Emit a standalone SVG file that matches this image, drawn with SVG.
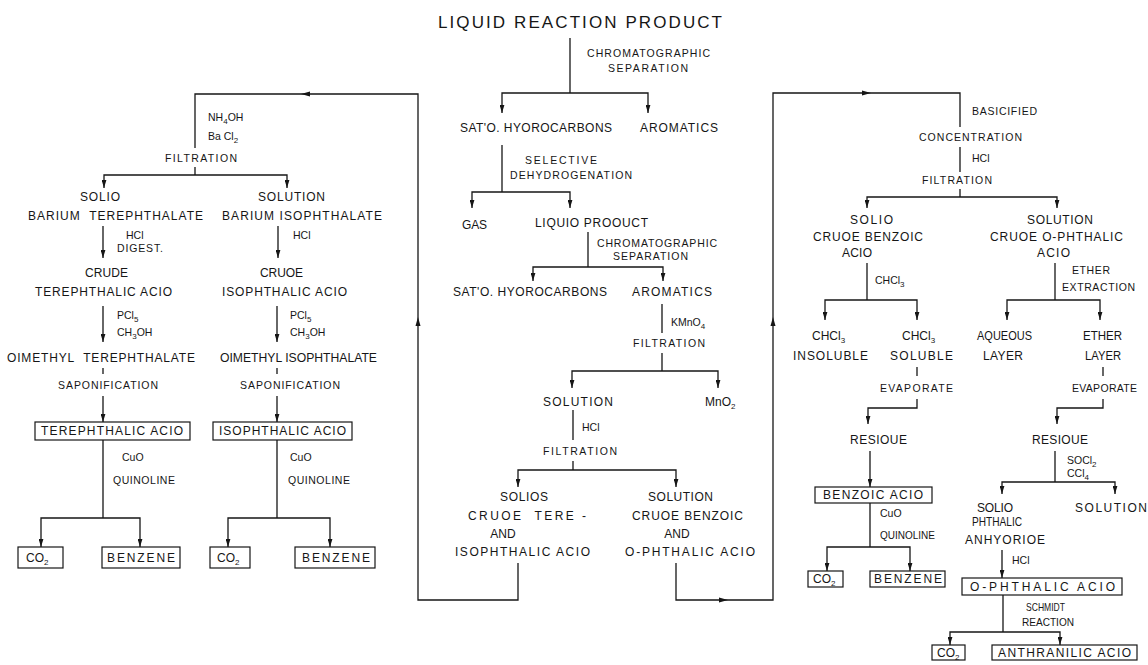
<svg xmlns="http://www.w3.org/2000/svg" width="1148" height="665" viewBox="0 0 1148 665">
<defs>
<style>
text{font-family:"Liberation Sans",Arial,sans-serif;fill:#161616;}
.m{font-size:12px;}
.r{font-size:10.5px;}
.ttl{font-size:17px;}
.sb{font-size:8px;}
.ln{stroke:#161616;stroke-width:1.3;fill:none;}
.ar{marker-end:url(#ah);}
.bx{stroke:#161616;stroke-width:1.2;fill:#fff;}
.tri{fill:#161616;}
</style>
<marker id="ah" viewBox="0 0 10 6" refX="10" refY="3" markerWidth="8" markerHeight="5" markerUnits="userSpaceOnUse" orient="auto"><path d="M0,0 L10,3 L0,6 z" fill="#161616"/></marker>
</defs>
<rect width="1148" height="665" fill="#fff"/>
<g id="connectors">
<path class="ln" d="M570,38 V93"/>
<path class="ln ar" d="M570,93 H502 V113"/>
<path class="ln ar" d="M570,93 H648 V113"/>
<path class="ln" d="M502,145 V192"/>
<path class="ln ar" d="M502,192 H472 V208"/>
<path class="ln ar" d="M502,192 H570 V208"/>
<path class="ln" d="M588,232 V267"/>
<path class="ln ar" d="M588,267 H533 V281"/>
<path class="ln ar" d="M588,267 H663 V281"/>
<path class="ln" d="M662,304 V333 M662,353 V371"/>
<path class="ln ar" d="M662,371 H572 V388"/>
<path class="ln ar" d="M662,371 H718 V388"/>
<path class="ln" d="M573,410 V440 M573,461 V470"/>
<path class="ln ar" d="M573,470 H518 V487"/>
<path class="ln ar" d="M573,470 H676 V487"/>
<path class="ln" d="M518,563 V600 H418 V94 H195 V148 M195,167 V175"/>
<polygon class="tri" points="418,317 415.5,326 420.5,326"/>
<polygon class="tri" points="301,94 310,91.5 310,96.5"/>
<path class="ln" d="M676,563 V600 H773 V93 H960 V127"/>
<polygon class="tri" points="773,317 770.5,326 775.5,326"/>
<polygon class="tri" points="871,93 862,90.5 862,95.5"/>
<polygon class="tri" points="728,600 719,597.5 719,602.5"/>
<path class="ln" d="M960,147 V172 M960,189 V197"/>
<path class="ln ar" d="M960,197 H867 V208"/>
<path class="ln ar" d="M960,197 H1057 V208"/>
<path class="ln ar" d="M195,175 H104 V188"/>
<path class="ln ar" d="M195,175 H287 V188"/>
<path class="ln ar" d="M103,226 V258"/>
<path class="ln ar" d="M278,226 V258"/>
<path class="ln ar" d="M103,306 V342"/>
<path class="ln ar" d="M277,306 V342"/>
<path class="ln" d="M103,368 V374 M277,368 V374"/>
<path class="ln ar" d="M103,396 V422"/>
<path class="ln ar" d="M277,396 V422"/>
<path class="ln" d="M103,440 V518 M277,440 V518"/>
<path class="ln ar" d="M103,518 H41 V547"/>
<path class="ln ar" d="M103,518 H140 V547"/>
<path class="ln ar" d="M277,518 H228 V547"/>
<path class="ln ar" d="M277,518 H330 V547"/>
<path class="ln" d="M867,263 V300"/>
<path class="ln ar" d="M867,300 H825 V320"/>
<path class="ln ar" d="M867,300 H917 V320"/>
<path class="ln" d="M917,367 V376"/>
<path class="ln ar" d="M917,399 V408 H868 V424"/>
<path class="ln ar" d="M870,451 V487"/>
<path class="ln" d="M870,503 V547"/>
<path class="ln ar" d="M870,547 H827 V571"/>
<path class="ln ar" d="M870,547 H910 V571"/>
<path class="ln" d="M1055,263 V300"/>
<path class="ln ar" d="M1055,300 H1007 V320"/>
<path class="ln ar" d="M1055,300 H1100 V320"/>
<path class="ln" d="M1103,367 V376"/>
<path class="ln ar" d="M1103,399 V408 H1057 V424"/>
<path class="ln" d="M1055,451 V482"/>
<path class="ln ar" d="M1055,482 H1002 V494"/>
<path class="ln ar" d="M1055,482 H1115 V494"/>
<path class="ln ar" d="M1002,550 V578"/>
<path class="ln" d="M1003,595 V632"/>
<path class="ln ar" d="M1003,632 H950 V645"/>
<path class="ln ar" d="M1003,632 H1060 V645"/>
</g>
<g id="n-liquid-reaction-product"><text class="ttl" x="438" y="28" textLength="284">LIQUID REACTION PRODUCT</text></g>
<g id="l-chrom1"><text class="r" x="587" y="57" textLength="123">CHROMATOGRAPHIC</text><text class="r" x="608" y="72" textLength="80">SEPARATION</text></g>
<g id="n-satd1"><text class="m" x="460" y="132" textLength="152">SAT'O. HYOROCARBONS</text></g>
<g id="n-arom1"><text class="m" x="640" y="132" textLength="78">AROMATICS</text></g>
<g id="l-seldehyd"><text class="r" x="525" y="164" textLength="72">SELECTIVE</text><text class="r" x="510" y="179" textLength="122">DEHYDROGENATION</text></g>
<g id="n-gas"><text class="m" x="462" y="229" textLength="25">GAS</text></g>
<g id="n-liquid-product"><text class="m" x="535" y="227" textLength="113">LIQUIO PROOUCT</text></g>
<g id="l-chrom2"><text class="r" x="597" y="247" textLength="120">CHROMATOGRAPHIC</text><text class="r" x="613" y="260" textLength="75">SEPARATION</text></g>
<g id="n-satd2"><text class="m" x="453" y="296" textLength="154">SAT'O. HYOROCARBONS</text></g>
<g id="n-arom2"><text class="m" x="632" y="296" textLength="80">AROMATICS</text></g>
<g id="l-kmno4"><text class="r" x="671" y="326">KMnO<tspan class="sb" dy="3">4</tspan></text><text class="r" x="633" y="347" textLength="72">FILTRATION</text></g>
<g id="n-solution-c"><text class="m" x="543" y="406" textLength="70">SOLUTION</text></g>
<g id="n-mno2"><text class="m" x="705" y="406">MnO<tspan class="sb" dy="3">2</tspan></text></g>
<g id="l-hcl-c"><text class="r" x="582" y="431">HCl</text><text class="r" x="543" y="455" textLength="74">FILTRATION</text></g>
<g id="n-solids-c"><text class="m" x="500" y="501" textLength="48">SOLIOS</text><text class="m" x="468" y="520" textLength="118">CRUOE&#160; TERE -</text><text class="m" x="503" y="538" text-anchor="middle">AND</text><text class="m" x="455" y="556" textLength="135">ISOPHTHALIC ACIO</text></g>
<g id="n-solution-c2"><text class="m" x="648" y="501" textLength="65">SOLUTION</text><text class="m" x="632" y="520" textLength="111">CRUOE BENZOIC</text><text class="m" x="677" y="538" text-anchor="middle">AND</text><text class="m" x="625" y="556" textLength="130">O-PHTHALIC ACIO</text></g>
<g id="l-nh4oh"><text class="r" x="208" y="121">NH<tspan class="sb" dy="3">4</tspan><tspan dy="-3">OH</tspan></text><text class="r" x="208" y="140">Ba Cl<tspan class="sb" dy="3">2</tspan></text><text class="r" x="165" y="162" textLength="72">FILTRATION</text></g>
<g id="n-solid-bat"><text class="m" x="80" y="201" textLength="40">SOLIO</text><text class="m" x="28" y="220" textLength="175">BARIUM&#160; TEREPHTHALATE</text></g>
<g id="n-sol-bai"><text class="m" x="258" y="201" textLength="67">SOLUTION</text><text class="m" x="222" y="220" textLength="160">BARIUM ISOPHTHALATE</text></g>
<g id="l-hcl-l1"><text class="r" x="126" y="239">HCl</text><text class="r" x="117" y="252" textLength="46">DIGEST.</text></g>
<g id="l-hcl-l2"><text class="r" x="293" y="239">HCl</text></g>
<g id="n-crude-ta"><text class="m" x="85" y="277" textLength="43">CRUDE</text><text class="m" x="35" y="296" textLength="137">TEREPHTHALIC ACIO</text></g>
<g id="n-crude-ia"><text class="m" x="260" y="277" textLength="43">CRUOE</text><text class="m" x="222" y="296" textLength="125">ISOPHTHALIC ACIO</text></g>
<g id="l-pcl5-1"><text class="r" x="117" y="319">PCl<tspan class="sb" dy="3">5</tspan></text><text class="r" x="117" y="336">CH<tspan class="sb" dy="3">3</tspan><tspan dy="-3">OH</tspan></text></g>
<g id="l-pcl5-2"><text class="r" x="290" y="319">PCl<tspan class="sb" dy="3">5</tspan></text><text class="r" x="290" y="336">CH<tspan class="sb" dy="3">3</tspan><tspan dy="-3">OH</tspan></text></g>
<g id="n-dmt"><text class="m" x="7" y="362" textLength="188">OIMETHYL&#160; TEREPHTHALATE</text></g>
<g id="n-dmi"><text class="m" x="220" y="362" textLength="157" lengthAdjust="spacingAndGlyphs">OIMETHYL ISOPHTHALATE</text></g>
<g id="l-sapon1"><text class="r" x="58" y="389" textLength="100">SAPONIFICATION</text></g>
<g id="l-sapon2"><text class="r" x="240" y="389" textLength="100">SAPONIFICATION</text></g>
<g id="n-ta-box"><rect class="bx" x="35" y="422" width="155" height="18"/><text class="m" x="41" y="435" textLength="142">TEREPHTHALIC ACIO</text></g>
<g id="n-ia-box"><rect class="bx" x="213" y="422" width="139" height="18"/><text class="m" x="219" y="435" textLength="127">ISOPHTHALIC ACIO</text></g>
<g id="l-cuo1"><text class="r" x="122" y="461">CuO</text><text class="r" x="113" y="484" textLength="62">QUINOLINE</text></g>
<g id="l-cuo2"><text class="r" x="290" y="461">CuO</text><text class="r" x="288" y="484" textLength="62">QUINOLINE</text></g>
<g id="n-co2-1"><rect class="bx" x="18" y="547" width="45" height="21"/><text class="m" x="26" y="562">CO<tspan class="sb" dy="3">2</tspan></text></g>
<g id="n-benz-1"><rect class="bx" x="102" y="547" width="78" height="21"/><text class="m" x="107" y="562" textLength="68">BENZENE</text></g>
<g id="n-co2-2"><rect class="bx" x="210" y="547" width="40" height="21"/><text class="m" x="217" y="562">CO<tspan class="sb" dy="3">2</tspan></text></g>
<g id="n-benz-2"><rect class="bx" x="295" y="547" width="80" height="21"/><text class="m" x="302" y="562" textLength="68">BENZENE</text></g>
<g id="l-basic"><text class="r" x="972" y="115" textLength="65">BASICIFIED</text><text class="r" x="919" y="141" textLength="103">CONCENTRATION</text><text class="r" x="972" y="162">HCl</text><text class="r" x="922" y="184" textLength="70">FILTRATION</text></g>
<g id="n-solid-cba"><text class="m" x="850" y="224" textLength="43">SOLIO</text><text class="m" x="813" y="241" textLength="110">CRUOE BENZOIC</text><text class="m" x="842" y="257" textLength="30">ACIO</text></g>
<g id="n-sol-cpa"><text class="m" x="1027" y="224" textLength="66">SOLUTION</text><text class="m" x="990" y="241" textLength="133">CRUOE O-PHTHALIC</text><text class="m" x="1037" y="257" textLength="33">ACIO</text></g>
<g id="l-chcl3"><text class="r" x="875" y="284">CHCl<tspan class="sb" dy="3">3</tspan></text></g>
<g id="l-ether"><text class="r" x="1072" y="274" textLength="38">ETHER</text><text class="r" x="1062" y="291" textLength="73">EXTRACTION</text></g>
<g id="n-chcl3-ins"><text class="m" x="812" y="340">CHCl<tspan class="sb" dy="3">3</tspan></text><text class="m" x="793" y="360" textLength="75">INSOLUBLE</text></g>
<g id="n-chcl3-sol"><text class="m" x="902" y="340">CHCl<tspan class="sb" dy="3">3</tspan></text><text class="m" x="890" y="360" textLength="63">SOLUBLE</text></g>
<g id="n-aqueous"><text class="m" x="977" y="340" textLength="55" lengthAdjust="spacingAndGlyphs">AQUEOUS</text><text class="m" x="983" y="360" textLength="40">LAYER</text></g>
<g id="n-ether-layer"><text class="m" x="1083" y="340" textLength="39" lengthAdjust="spacingAndGlyphs">ETHER</text><text class="m" x="1085" y="360" textLength="36" lengthAdjust="spacingAndGlyphs">LAYER</text></g>
<g id="l-evap1"><text class="r" x="880" y="392" textLength="73">EVAPORATE</text></g>
<g id="l-evap2"><text class="r" x="1072" y="392" textLength="65">EVAPORATE</text></g>
<g id="n-residue1"><text class="m" x="850" y="444" textLength="57">RESIOUE</text></g>
<g id="n-residue2"><text class="m" x="1032" y="444" textLength="56">RESIOUE</text></g>
<g id="n-ba-box"><rect class="bx" x="815" y="487" width="117" height="16"/><text class="m" x="823" y="499" textLength="100">BENZOIC ACIO</text></g>
<g id="l-cuo3"><text class="r" x="880" y="517">CuO</text><text class="r" x="880" y="539" textLength="55" lengthAdjust="spacingAndGlyphs">QUINOLINE</text></g>
<g id="n-co2-3"><rect class="bx" x="808" y="571" width="35" height="16"/><text class="m" x="813" y="583">CO<tspan class="sb" dy="3">2</tspan></text></g>
<g id="n-benz-3"><rect class="bx" x="870" y="571" width="75" height="16"/><text class="m" x="874" y="583" textLength="68">BENZENE</text></g>
<g id="l-socl2"><text class="r" x="1067" y="464">SOCl<tspan class="sb" dy="3">2</tspan></text><text class="r" x="1067" y="477">CCl<tspan class="sb" dy="3">4</tspan></text></g>
<g id="n-solid-pa"><text class="m" x="977" y="512" textLength="36">SOLIO</text><text class="m" x="972" y="526" textLength="50" lengthAdjust="spacingAndGlyphs">PHTHALIC</text><text class="m" x="965" y="544" textLength="80">ANHYORIOE</text></g>
<g id="n-solution-r"><text class="m" x="1075" y="512" textLength="72">SOLUTION</text></g>
<g id="l-hcl-r"><text class="r" x="1012" y="564">HCl</text></g>
<g id="n-opa-box"><rect class="bx" x="962" y="578" width="160" height="17"/><text class="m" x="970" y="591" textLength="145">O-PHTHALIC ACIO</text></g>
<g id="l-schmidt"><text class="r" x="1026" y="611" textLength="39" lengthAdjust="spacingAndGlyphs">SCHMIDT</text><text class="r" x="1022" y="626" textLength="52" lengthAdjust="spacingAndGlyphs">REACTION</text></g>
<g id="n-co2-4"><rect class="bx" x="932" y="645" width="33" height="15"/><text class="m" x="937" y="657">CO<tspan class="sb" dy="3">2</tspan></text></g>
<g id="n-anth-box"><rect class="bx" x="992" y="645" width="145" height="15"/><text class="m" x="998" y="657" textLength="133">ANTHRANILIC ACIO</text></g>
</svg>
